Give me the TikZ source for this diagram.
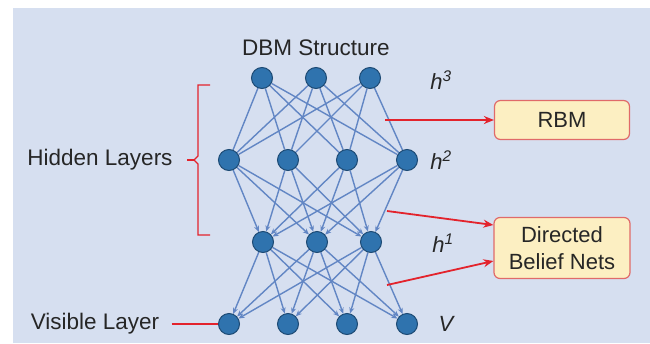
\documentclass[tikz,border=0pt]{standalone}
\usepackage{fontspec}
\setmainfont{Liberation Sans}
\usetikzlibrary{arrows.meta, positioning, backgrounds}

\definecolor{bgblue}{HTML}{D6DFF0}
\definecolor{unitfill}{HTML}{2F73AE}
\definecolor{unitline}{HTML}{1D4A74}
\definecolor{linkblue}{HTML}{6286C4}
\definecolor{markred}{HTML}{E3232C}
\definecolor{boxfill}{HTML}{FCEFC2}
\definecolor{boxline}{HTML}{E06A6A}

\tikzset{
  unit/.style={circle, fill=unitfill, draw=unitline, line width=1pt, minimum size=21pt, inner sep=0pt},
  link/.style={linkblue, line width=1.4pt},
  dlink/.style={link, -{Stealth[length=6pt, width=5pt]}},
  marker/.style={markred, line width=1.2pt},
  pointer/.style={markred, line width=1.8pt, -{Stealth[length=10pt, width=8pt]}},
  labelbox/.style={draw=boxline, fill=boxfill, line width=1.2pt, rounded corners=6pt, align=center, font=\fontsize{22}{27}\selectfont, text=black!85},
  lbl/.style={font=\fontsize{22.5}{26}\selectfont, text=black!85},
  layername/.style={font=\fontsize{22}{26}\selectfont\itshape, text=black!85}
}

\begin{document}
\begin{tikzpicture}[x=1pt, y=-1pt]

\useasboundingbox (0,0) rectangle (650,343);

% Schichten
\foreach \i/\x in {1/262, 2/316, 3/370} {
  \node[unit] (t\i) at (\x,78) {};
  \node[unit] (m\i) at (\x+1,242) {};
}
\foreach \i/\x in {1/229, 2/288, 3/347, 4/407} {
  \node[unit] (u\i) at (\x,160) {};
  \node[unit] (v\i) at (\x,324) {};
}

% Hintergrund und Verbindungen
\begin{scope}[on background layer]
\fill[bgblue] (13,8) rectangle (650,343);
\foreach \a in {1,2,3} \foreach \b in {1,2,3,4} {
  \draw[link] (t\a) -- (u\b);
  \draw[dlink] (u\b) -- (m\a);
  \draw[dlink] (m\a) -- (v\b);
}
\end{scope}

% Beschriftungen
\node[lbl] (title) at (316,48) {DBM Structure};
\node[layername] (n3) at (441,80) {h\textsuperscript{3}};
\node[layername] (n2) at (441,160) {h\textsuperscript{2}};
\node[layername] (n1) at (443,243) {h\textsuperscript{1}};
\node[layername] (n0) at (446,324) {V};

\node[lbl] (hid) at (100,160) {Hidden Layers};
\node[lbl] (vis) at (95,324) {Visible Layer};

% Klammer
\draw[marker] (210,85) -- (198,85) -- (198,156) -- (194,160) -- (198,164) -- (198,235) -- (210,235);
\draw[marker, shorten <=11pt] (hid.east) -- (194,160);
\draw[marker, shorten <=9pt] (vis.east) -- (v1.west);

% Kaesten
\node[labelbox, minimum width=135pt, minimum height=39pt] (rbm) at (562,120) {RBM};
\node[labelbox, minimum width=136pt, minimum height=61pt] (dbn) at (562,248) {Directed\\Belief Nets};

\coordinate (p1) at (385,120);
\coordinate (p2) at (387,211);
\coordinate (p3) at (387,285);
\draw[pointer] (p1) -- (rbm.west);
\draw[pointer] (p2) -- ([yshift=23pt]dbn.west);
\draw[pointer] (p3) -- ([yshift=-13pt]dbn.west);

\end{tikzpicture}
\end{document}
